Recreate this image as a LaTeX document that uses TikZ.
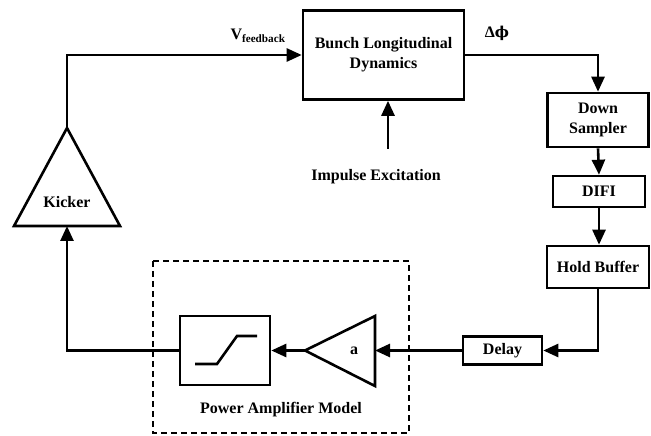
\documentclass[tikz,border=0pt]{standalone}
\usepackage{fontspec}
\setmainfont{Liberation Serif}
\newfontfamily\greekfont{DejaVu Serif}
\usepackage{tikz}
\usetikzlibrary{arrows.meta,positioning,calc}

\begin{document}
\begin{tikzpicture}[x=1bp,y=-1bp,% pixel grid of the figure, y goes down
					every node/.style={
						align=center,  		% use this so that the "\\" for line break works
						font=\fontsize{16bp}{20bp}\selectfont\bfseries
						},
					block/.style={rectangle,draw=black,line width=2.6bp,inner sep=0pt},
					wire/.style={line width=2.6bp,-{Triangle[length=15bp,width=13bp]}},
					plain/.style={line width=2.6bp}
					]
\useasboundingbox (0,0) rectangle (651,436);
% main blocks
\node[block,minimum width=161bp,minimum height=89bp](BLD) at (383.5,55){Bunch Longitudinal\\Dynamics};
\node[block,minimum width=101bp,minimum height=54bp](DS) at (598,120){Down\\Sampler};
\node[block,minimum width=92bp,minimum height=31bp](DIFI) at (599,191.5){DIFI};
\node[block,minimum width=102bp,minimum height=42bp](HB) at (598,267){Hold Buffer};
\node[block,minimum width=79bp,minimum height=28bp](DL) at (502.5,350.5){Delay};
\node[block,minimum width=90bp,minimum height=69bp](SAT) at (225,350.5){};
% saturation curve
\draw[plain] (195,364) -- (217,364) -- (237,336) -- (257,336);
% amplifier triangle
\coordinate (ampin) at (375,350.5);
\coordinate (ampout) at (305,350.5);
\draw[plain,line join=miter] (375,316) -- (ampout) -- (375,386) -- cycle;
\node(GAIN) at (354,350.5){a};
% kicker triangle
\coordinate (ktop) at (67,128);
\coordinate (kbot) at (67,226);
\draw[plain,line join=miter] (14,226) -- (ktop) -- (120,226) -- cycle;
\node(KICK) at (67,202){Kicker};
% labels
\node(VFB) at (258,36){V\textsubscript{feedback}};
\node(DPHI) at (497,33){Δ{\greekfont\fontsize{15bp}{18bp}\selectfont ϕ}};
\node(IMP) at (376,177){Impulse Excitation};
\coordinate (exc) at (388,149);
% power amplifier model
\draw[line width=1.3bp,dash pattern=on 6bp off 4bp] (153,261) rectangle (409,433);
\node(PAM) at (281,410){Power Amplifier Model};
% connections
\draw[wire] (BLD.east) -| (DS.north);
\draw[wire] (DS.south) -- (DIFI.north);
\draw[wire] (DIFI.south) -- (DIFI.south |- HB.north);
\draw[wire] (HB.south) |- (DL.east);
\draw[wire] (DL.west) -- (ampin);
\draw[wire] (ampout) -- (SAT.east);
\draw[wire] (SAT.west) -| (kbot);
\draw[wire] (ktop) |- (BLD.west);
\draw[wire] (exc) -- (exc |- BLD.south);
\end{tikzpicture}
\end{document}
